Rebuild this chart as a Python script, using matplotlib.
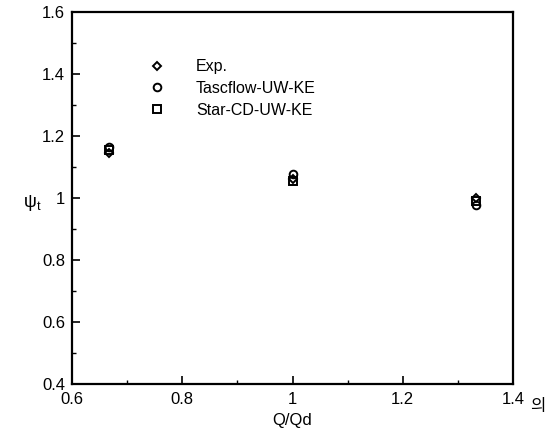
import matplotlib.pyplot as plt
from matplotlib.ticker import MultipleLocator

plt.rcParams['font.family'] = ['Liberation Sans', 'Noto Sans CJK KR', 'DejaVu Sans']
plt.rcParams['mathtext.fontset'] = 'custom'
plt.rcParams['mathtext.rm'] = 'Liberation Sans'

# flow rate ratio Q/Qd
q_ratio = [0.667, 1.0, 1.333]

# head coefficient psi_t
exp_vals = [1.145, 1.06, 1.0]
tascflow_vals = [1.165, 1.077, 0.977]
starcd_vals = [1.155, 1.055, 0.99]

labels = ['Exp.', 'Tascflow-UW-KE', 'Star-CD-UW-KE']
markers = ['D', 'o', 's']

fig = plt.figure(figsize=(5.59, 4.38), dpi=100)
ax = fig.add_axes([0.1288, 0.1233, 0.789, 0.849])

series = [exp_vals, tascflow_vals, starcd_vals]
for vals, lab, mk in zip(series, labels, markers):
    ms = 4.5 if mk == 'D' else 5.5
    ax.plot(q_ratio, vals, linestyle='none', marker=mk, markersize=ms,
            markerfacecolor='none', markeredgecolor='black',
            markeredgewidth=1.4, label=lab)

ax.set_xlim(0.6, 1.4)
ax.set_ylim(0.4, 1.6)
ax.xaxis.set_minor_locator(MultipleLocator(0.1))
ax.yaxis.set_minor_locator(MultipleLocator(0.1))
ax.set_xticks([0.6, 0.8, 1.0, 1.2, 1.4])
ax.set_xticklabels(['0.6', '0.8', '1', '1.2', '1.4'])
ax.set_yticks([0.4, 0.6, 0.8, 1.0, 1.2, 1.4, 1.6])
ax.set_yticklabels(['0.4', '0.6', '0.8', '1', '1.2', '1.4', '1.6'])

ax.tick_params(which='major', direction='in', length=6, width=1.2,
               labelsize=12, top=False, right=False)
ax.tick_params(which='minor', direction='in', length=3, width=1.0,
               top=False, right=False)
ax.tick_params(axis='x', pad=6)
ax.tick_params(axis='y', pad=5)
for sp in ax.spines.values():
    sp.set_linewidth(1.6)

ax.set_xlabel('Q/Qd', fontsize=12, labelpad=4)
ax.set_ylabel(r'ψ$_{\rm t}$', fontsize=13, rotation=0)
ax.yaxis.set_label_coords(-0.09, 0.46)

ax.legend(loc='upper left', bbox_to_anchor=(0.125, 0.912), frameon=False,
          fontsize=11.5, handletextpad=1.4, labelspacing=0.42,
          markerscale=1.0)

fig.text(0.962, 0.071, '의', fontsize=12, family=['Noto Sans CJK KR'],
         ha='center', va='center')

fig.savefig('out.png', dpi=100)
